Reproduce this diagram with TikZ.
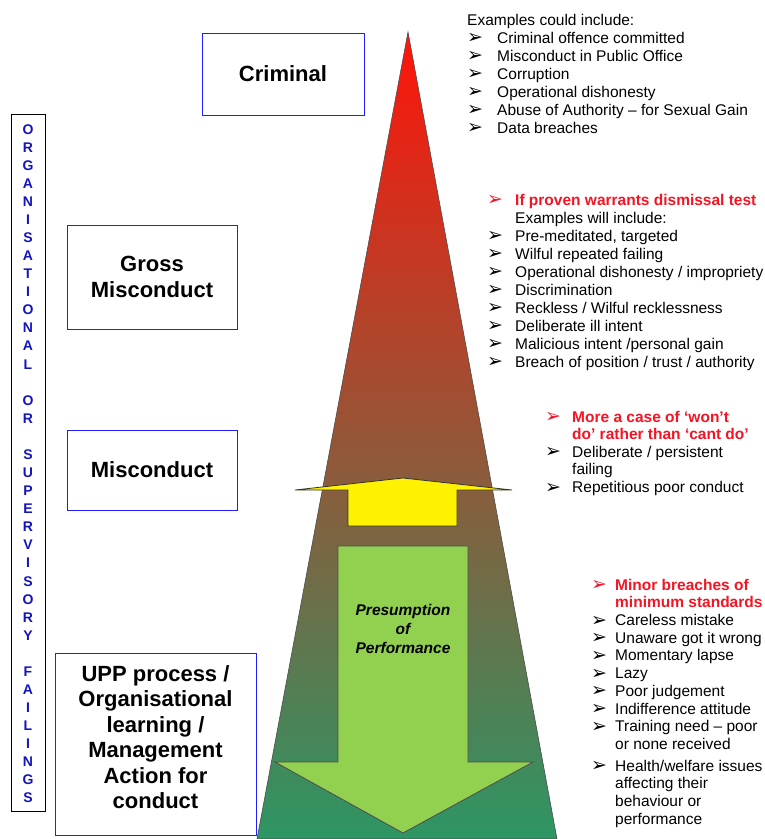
\documentclass[tikz,border=0pt]{standalone}
\usepackage{fontspec}
\setmainfont{Liberation Sans}
\newfontfamily\dingfont{DejaVu Sans}
\definecolor{boxblue}{RGB}{30,30,255}
\definecolor{letterblue}{RGB}{20,20,190}
\definecolor{warnred}{RGB}{245,20,35}
\definecolor{topred}{RGB}{255,20,10}
\definecolor{midbrown}{RGB}{178,104,76}
\definecolor{botgreen}{RGB}{45,150,100}
\definecolor{downgreen}{RGB}{146,208,80}
\newlength\bulw
\newcommand\bul[1][black]{\makebox[\bulw][l]{\color{#1}\dingfont\bfseries\fontsize{19}{19}\selectfont\raisebox{-.5pt}{➢}}}
\newcommand\gap{\hspace*{\bulw}}
\begin{document}
\begin{tikzpicture}[x=1pt,y=-1pt,
	lbl/.style={draw=boxblue,line width=.8pt,align=center,font=\bfseries\fontsize{22}{26}\selectfont},
	lst/.style={anchor=north west,inner sep=0pt,align=left,font=\fontsize{15.5}{18}\selectfont}]
	\useasboundingbox(0,0)rectangle(764,839);
	\shade[top color=topred,middle color=midbrown,bottom color=botgreen,draw=black!70,line width=.6pt](408,32)--(557,839)--(257,839)--cycle;
	\draw[fill=yellow,draw=black!80,line width=.8pt](403,478)--(512,490)--(457,490)--(457,526)--(348,526)--(348,490)--(295,490)--cycle;
	\draw[fill=downgreen,draw=black!70,line width=.8pt](338,546)--(468,546)--(468,762)--(533,762)--(403,833)--(275,762)--(338,762)--cycle;
	\node[font=\bfseries\itshape\fontsize{15.5}{19}\selectfont,align=center](pres)at(403,629){Presumption\\of\\Performance};
	\node[lbl,minimum width=162,minimum height=82](crim)at(283,74){Criminal};
	\node[lbl,minimum width=170,minimum height=104](gross)at(152,277){Gross\\Misconduct};
	\node[lbl,minimum width=170,minimum height=80](misc)at(152,470){Misconduct};
	\node[lbl,minimum width=201,minimum height=182](upp)at(155.5,744){};
	\node[align=center,font=\bfseries\fontsize{22}{25.5}\selectfont](upptext)at(155.5,737){UPP process /\\Organisational\\learning /\\Management\\Action for\\conduct};
	\draw[line width=.8pt](11,114)rectangle(45,811);
	\foreach \l [count=\i] in {O,R,G,A,N,I,S,A,T,I,O,N,A,L,{},O,R,{},S,U,P,E,R,V,I,S,O,R,Y,{},F,A,I,L,I,N,G,S}
		\node[anchor=base,inner sep=0pt,text=letterblue,font=\bfseries\fontsize{14}{14}\selectfont](l\i)at(28,{134+18.08*(\i-1)}){\l};
	\node[lst,font=\fontsize{15.5}{18}\selectfont\setlength\bulw{30pt}](crimlist)at(467,13.7){%
		Examples could include:\\
		\bul Criminal offence committed\\
		\bul Misconduct in Public Office\\
		\bul Corruption\\
		\bul Operational dishonesty\\
		\bul Abuse of Authority – for Sexual Gain\\
		\bul Data breaches};
	\node[lst,font=\fontsize{15.5}{18}\selectfont\setlength\bulw{28pt}](grosslist)at(487,193.7){%
		\bul[warnred]\textcolor{warnred}{\bfseries If proven warrants dismissal test}\\
		\gap Examples will include:\\
		\bul Pre-meditated, targeted\\
		\bul Wilful repeated failing\\
		\bul Operational dishonesty / impropriety\\
		\bul Discrimination\\
		\bul Reckless / Wilful recklessness\\
		\bul Deliberate ill intent\\
		\bul Malicious intent /personal gain\\
		\bul Breach of position / trust / authority};
	\node[lst,font=\fontsize{15.5}{17.6}\selectfont\setlength\bulw{27pt}](misclist)at(545,410.7){%
		\bul[warnred]\textcolor{warnred}{\bfseries More a case of ‘won’t}\\
		\gap\textcolor{warnred}{\bfseries do’ rather than ‘cant do’}\\
		\bul Deliberate / persistent\\
		\gap failing\\
		\bul Repetitious poor conduct};
	\node[lst,font=\fontsize{15.5}{17.7}\selectfont\setlength\bulw{24pt}](uppList)at(591,578.7){%
		\bul[warnred]\textcolor{warnred}{\bfseries Minor breaches of}\\
		\gap\textcolor{warnred}{\bfseries minimum standards}\\
		\bul Careless mistake\\
		\bul Unaware got it wrong\\
		\bul Momentary lapse\\
		\bul Lazy\\
		\bul Poor judgement\\
		\bul Indifference attitude\\
		\bul Training need – poor\\
		\gap or none received\\[4pt]
		\bul Health/welfare issues\\
		\gap affecting their\\
		\gap behaviour or\\
		\gap performance};
\end{tikzpicture}
\end{document}
